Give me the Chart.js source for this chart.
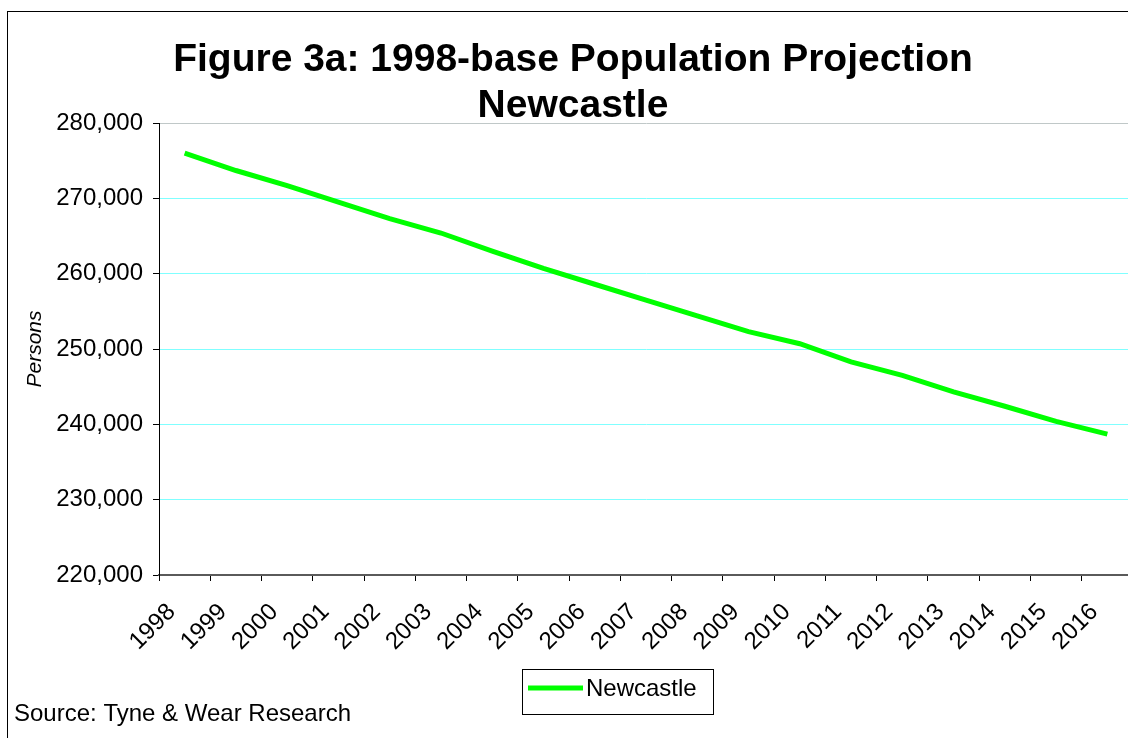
<!DOCTYPE html>
<html><head><meta charset="utf-8">
<script src="https://cdn.jsdelivr.net/npm/chart.js@4"></script>
<style>
html,body{margin:0;padding:0;background:#fff;overflow:hidden;}
#wrap{position:relative;width:1128px;height:738px;overflow:hidden;}
#box{position:absolute;left:0;top:0;width:1150px;height:760px;}
</style></head><body>
<div id="wrap"><div id="box"><canvas id="c"></canvas></div></div>
<script>
const years = ['1998','1999','2000','2001','2002','2003','2004','2005','2006','2007','2008','2009','2010','2011','2012','2013','2014','2015','2016'];
const newcastle = [276000, 273700, 271700, 269500, 267300, 265400, 263000, 260700, 258600, 256500, 254400, 252300, 250700, 248300, 246500, 244300, 242400, 240400, 238700];
const yMin = 220000, yMax = 280000, yStep = 10000;
const seriesName = 'Newcastle';
const titleLines = ['Figure 3a: 1998-base Population Projection', 'Newcastle'];
const yAxisTitle = 'Persons';
const sourceText = 'Source: Tyne & Wear Research';

const FONT = '"Liberation Sans", Arial, sans-serif';

const decor = {
  id: 'decor',
  beforeDraw(chart) {
    const ctx = chart.ctx;
    ctx.save();
    ctx.fillStyle = '#fff';
    ctx.fillRect(0, 0, chart.width, chart.height);
    ctx.restore();
  },
  afterDraw(chart) {
    const ctx = chart.ctx;
    const ds = chart.data.datasets[0];
    ctx.save();
    ctx.strokeStyle = '#000';
    ctx.lineWidth = 1;
    ctx.strokeRect(7.5, 11.5, 1135, 760);
    ctx.strokeRect(522.5, 669.5, 191, 45);
    ctx.strokeStyle = ds.borderColor;
    ctx.lineWidth = 5;
    ctx.beginPath();
    ctx.moveTo(528, 688);
    ctx.lineTo(583, 688);
    ctx.stroke();
    ctx.fillStyle = '#000';
    ctx.font = '24px ' + FONT;
    ctx.textBaseline = 'middle';
    ctx.textAlign = 'left';
    ctx.fillText(ds.label, 586, 689);
    ctx.fillText(sourceText, 14, 714);
    ctx.restore();
  }
};

new Chart(document.getElementById('c'), {
  type: 'line',
  data: {
    labels: years,
    datasets: [{
      label: seriesName,
      data: newcastle,
      borderColor: '#00ff00',
      borderWidth: 5,
      pointRadius: 0,
      tension: 0,
      fill: false
    }]
  },
  options: {
    responsive: true,
    maintainAspectRatio: false,
    animation: false,
    devicePixelRatio: 1,
    layout: { padding: { left: 13, right: 17, top: 12, bottom: 0 } },
    plugins: {
      legend: { display: false },
      tooltip: { enabled: false },
      title: {
        display: true,
        text: titleLines,
        color: '#000',
        font: { family: FONT, size: 39, weight: 'bold', lineHeight: 1.18 },
        padding: { top: 25, bottom: -6 }
      }
    },
    scales: {
      x: {
        type: 'category',
        offset: true,
        grid: { offset: true, drawOnChartArea: false, drawTicks: true, tickLength: 6, tickColor: '#000', color: '#000' },
        border: { color: '#5a5a5a', width: 2 },
        ticks: { autoSkip: false, minRotation: 45, maxRotation: 45, labelOffset: -13, padding: 17, color: '#000', font: { family: FONT, size: 24 } },
        afterFit(s) { s.height = 185; }
      },
      y: {
        min: yMin, max: yMax,
        grid: {
          color: (c) => (c.tick && c.tick.value === yMax) ? '#c0c8c8' : '#80ffff',
          lineWidth: 1, tickLength: 6, tickColor: '#000'
        },
        border: { color: '#000', width: 1 },
        ticks: {
          stepSize: yStep, padding: 10, color: '#000',
          font: { family: FONT, size: 24 },
          callback: (v) => v.toLocaleString('en-US')
        },
        title: { display: true, text: yAxisTitle, color: '#000', font: { family: FONT, size: 21, style: 'italic' }, padding: { top: 10, bottom: 0 } },
        afterFit(s) { s.width = 146; }
      }
    }
  },
  plugins: [decor]
});
</script>
</body></html>
